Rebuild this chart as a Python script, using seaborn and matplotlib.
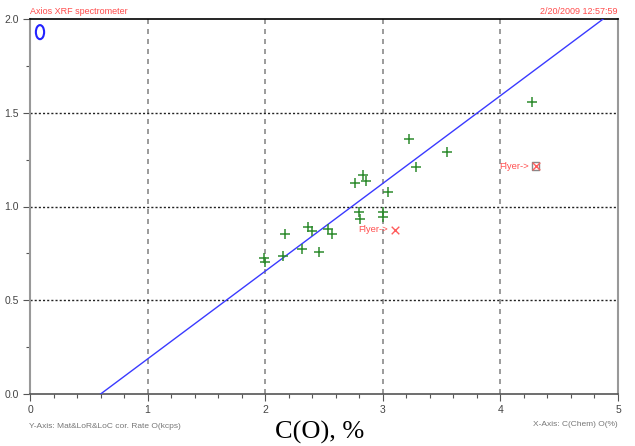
import numpy as np
import pandas as pd
import matplotlib
matplotlib.use("Agg")
import matplotlib.pyplot as plt
from matplotlib.patches import Ellipse
import seaborn as sns

# Calibration points: chemical O content (%) vs corrected count rate (kcps)
chem_o = [1.99, 2.00, 2.17, 2.15, 2.36, 2.40, 2.31, 2.46, 2.53, 2.57,
          2.76, 2.83, 2.86, 2.80, 2.81, 3.00, 3.00, 3.04, 3.28, 3.22, 3.55, 4.27]
rate_o = [0.725, 0.704, 0.853, 0.736, 0.891, 0.869, 0.773, 0.757, 0.880, 0.853,
          1.125, 1.168, 1.136, 0.971, 0.933, 0.970, 0.945, 1.077, 1.211, 1.360, 1.290, 1.557]

# Rejected samples (flyers)
flyer_x = [3.10, 4.30]
flyer_y = [0.875, 1.215]

# Calibration line
slope = 0.468
intercept = -0.281

x_ticks = [0, 1, 2, 3, 4, 5]
y_ticks = [0.0, 0.5, 1.0, 1.5, 2.0]

sns.set_theme(style="white")
plt.rcParams["font.family"] = ["Liberation Sans Narrow", "Liberation Sans", "DejaVu Sans"]

fig = plt.figure(figsize=(6.35, 4.46), dpi=100)
ax = fig.add_axes([30 / 635, 1 - 394 / 446, 588 / 635, 375 / 446])

df = pd.DataFrame({"x": chem_o, "y": rate_o})
line_x = np.array([0.0, 5.0])
line_df = pd.DataFrame({"x": line_x, "y": slope * line_x + intercept})

# grid lines
for xv in x_ticks[1:-1]:
    ax.axvline(xv, color="#8a8a8a", lw=1.2, ls=(0, (3, 3)), zorder=1)
for yv in y_ticks[1:-1]:
    ax.axhline(yv, color="#222222", lw=1.0, ls=(0, (1.5, 1.5)), zorder=1)

sns.lineplot(data=line_df, x="x", y="y", ax=ax, color="#3a3aff", lw=1.0, zorder=3)
sns.scatterplot(data=df, x="x", y="y", ax=ax, marker="+", color="#2e8b2e",
                s=60, linewidth=1.1, zorder=4)

# flyers
ax.scatter(flyer_x[0], flyer_y[0], marker="x", color="#ff5c5c", s=30, lw=1.0, zorder=5)
ax.scatter(flyer_x[1], flyer_y[1], marker="s", facecolor="none", edgecolor="#888888",
           s=30, lw=1.0, zorder=5)
ax.scatter(flyer_x[1], flyer_y[1], marker="x", color="#ff5c5c", s=30, lw=1.0, zorder=6)
for fx, fy in zip(flyer_x, flyer_y):
    ax.text(fx - 0.06, fy, "Flyer->", color="#ff5050", fontsize=6.8,
            ha="right", va="center", zorder=6)

# origin marker
ax.add_patch(Ellipse((0.085, 1.93), width=0.07, height=0.075, fill=False,
                     edgecolor="#2222ff", lw=1.5, zorder=5))

ax.set_xlim(0, 5)
ax.set_ylim(0, 2)
ax.set_xticks(x_ticks)
ax.set_yticks(y_ticks)
ax.set_xticklabels([str(v) for v in x_ticks])
ax.set_yticklabels([f"{v:.1f}" for v in y_ticks])
ax.set_xticks(np.arange(0, 5.01, 0.2), minor=True)
ax.set_yticks(np.arange(0, 2.01, 0.25), minor=True)
ax.tick_params(axis="both", which="major", length=5, width=0.8, color="#555555",
               labelsize=7.5, labelcolor="#444444", pad=3, bottom=True, left=True)
ax.tick_params(axis="both", which="minor", length=3, width=0.8, color="#555555",
               bottom=True, left=True)
ax.set_xlabel("")
ax.set_ylabel("")

ax.spines["left"].set_color("#999999")
ax.spines["left"].set_linewidth(1.5)
ax.spines["right"].set_color("#999999")
ax.spines["right"].set_linewidth(1.5)
ax.spines["top"].set_color("#000000")
ax.spines["top"].set_linewidth(1.2)
ax.spines["bottom"].set_color("#555555")
ax.spines["bottom"].set_linewidth(1.2)

fig.text(30 / 635, 1 - 12 / 446, "Axios XRF spectrometer", color="#ff4c4c",
         fontsize=6.5, ha="left", va="center")
fig.text(618 / 635, 1 - 12 / 446, "2/20/2009 12:57:59", color="#ff4c4c",
         fontsize=6.5, ha="right", va="center")
fig.text(29 / 635, 1 - 427 / 446, "Y-Axis: Mat&LoR&LoC cor. Rate O(kcps)", color="#777777",
         fontsize=6, ha="left", va="center")
fig.text(618 / 635, 1 - 425 / 446, "X-Axis: C(Chem) O(%)", color="#777777",
         fontsize=6, ha="right", va="center")
fig.text(320 / 635, 1 - 432 / 446, "C(O), %", color="#000000", fontsize=19,
         family=["Liberation Serif", "DejaVu Serif"], ha="center", va="center")

fig.savefig("out.png", dpi=100)
